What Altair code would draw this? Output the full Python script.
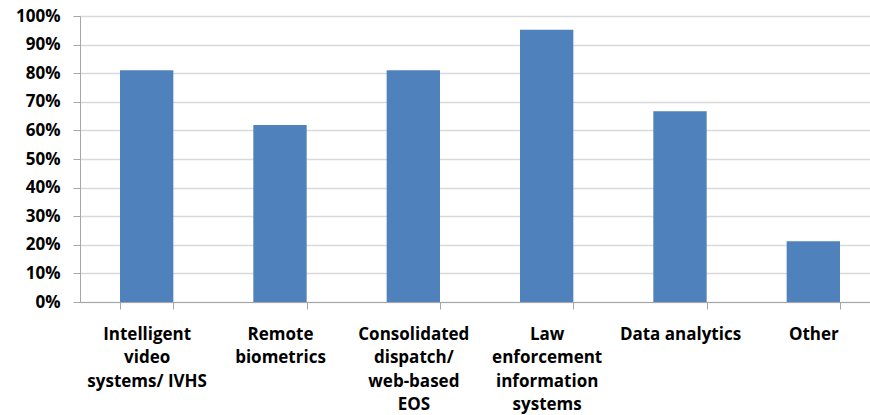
import altair as alt
import pandas as pd

# Survey: share of respondents using each technology
categories = [
    "Intelligent|video|systems/ IVHS",
    "Remote|biometrics",
    "Consolidated|dispatch/|web-based|EOS",
    "Law|enforcement|information|systems",
    "Data analytics",
    "Other",
]
shares = [0.81, 0.619, 0.81, 0.952, 0.667, 0.212]
y_ticks = [i / 10 for i in range(11)]

df = pd.DataFrame({"category": categories, "share": shares})

FONT = "Open Sans"
BAR = "#4F81BD"
GRID = "#D9D9D9"
AXIS = "#A6A6A6"

bars = (
    alt.Chart(df)
    .mark_bar(color=BAR)
    .encode(
        x=alt.X(
            "category:N",
            sort=categories,
            title=None,
            scale=alt.Scale(paddingInner=0.6, paddingOuter=0.3, range=[0, 800]),
            axis=alt.Axis(
                labelAngle=0,
                labelExpr="isValid(datum.value) ? split(datum.value, '|') : ''",
                labelFont=FONT,
                labelFontWeight="bold",
                labelFontSize=17,
                labelColor="#000000",
                labelLineHeight=23.5,
                labelPadding=17,
                labelBaseline="top",
                tickBand="extent",
                tickSize=7,
                tickColor=AXIS,
                domainColor=AXIS,
                grid=False,
                labelLimit=300,
            ),
        ),
        y=alt.Y(
            "share:Q",
            title=None,
            scale=alt.Scale(domain=[0, 1], nice=False),
            axis=alt.Axis(
                values=y_ticks,
                format=".0%",
                labelFont=FONT,
                labelFontWeight="bold",
                labelFontSize=17,
                labelColor="#000000",
                labelPadding=13,
                tickSize=7,
                tickColor=AXIS,
                domainColor=AXIS,
                gridColor=GRID,
                gridWidth=1.5,
            ),
        ),
    )
)

chart = (
    bars.properties(
        width=790,
        height=286,
        autosize=alt.AutoSizeParams(type="none"),
        padding={"left": 80, "top": 16, "right": 0, "bottom": 113},
    )
    .configure_view(stroke=None)
    .configure(background="#FFFFFF")
)

chart.save("out.html", embed_options={"renderer": "svg", "actions": False})
